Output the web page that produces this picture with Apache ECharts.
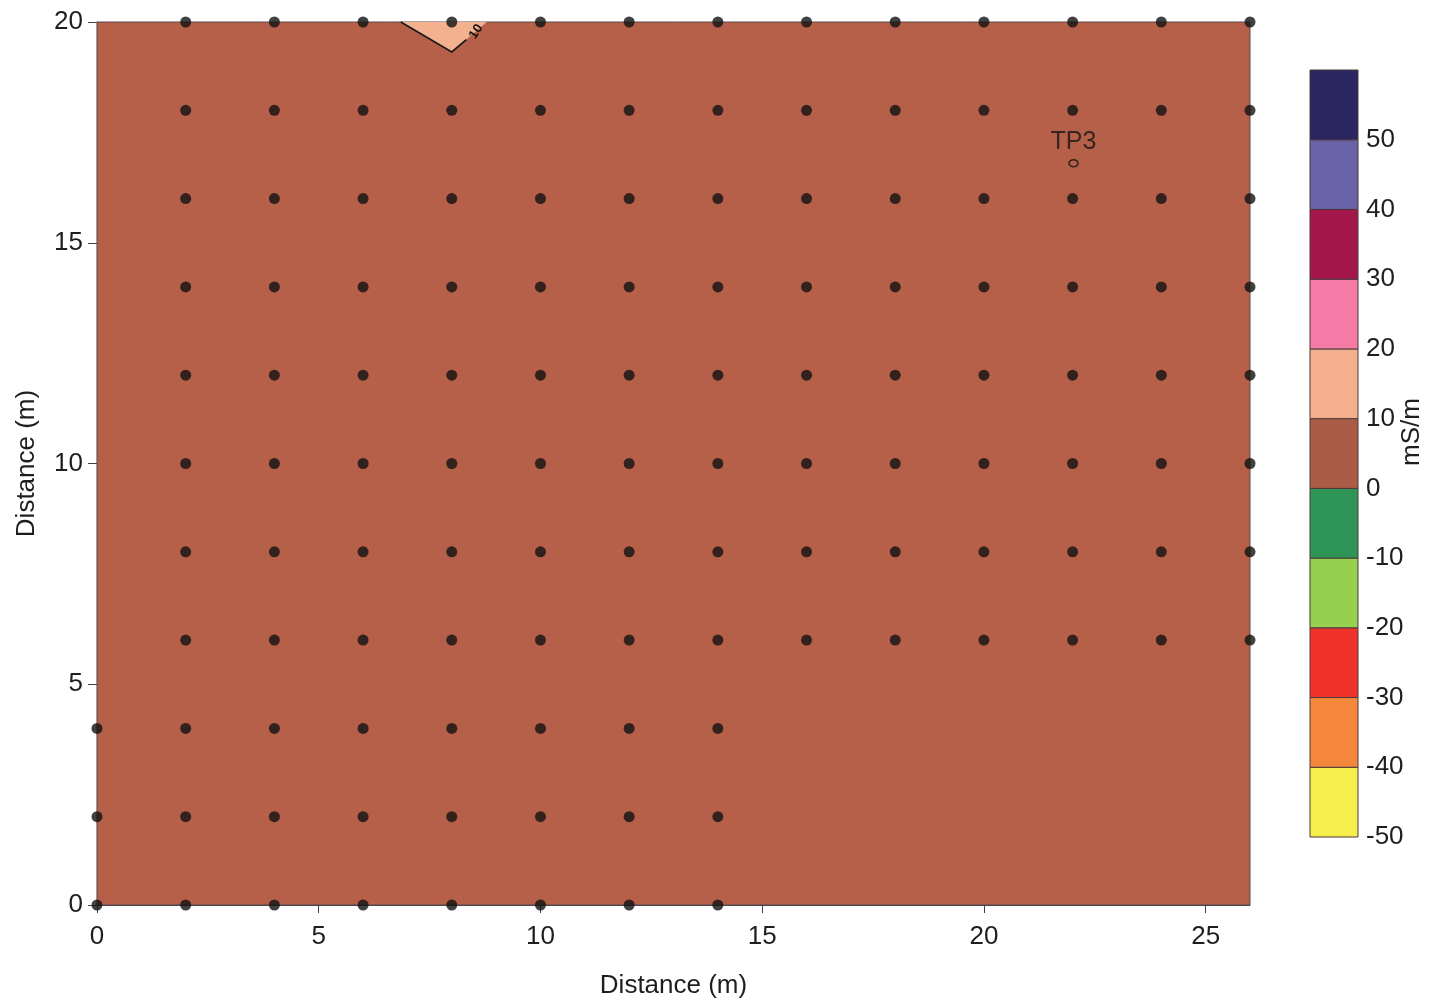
<!DOCTYPE html>
<html>
<head>
<meta charset="utf-8">
<script src="https://cdn.jsdelivr.net/npm/echarts@6/dist/echarts.min.js"></script>
<style>
html,body{margin:0;padding:0;background:#fff;}
#chart{width:1441px;height:1005px;}
</style>
</head>
<body>
<div id="chart"></div>
<script>
// ---- data ----
// survey station grid (m)
const northRowsY = [6, 8, 10, 12, 14, 16, 18, 20];
const northRowsX = [2, 4, 6, 8, 10, 12, 14, 16, 18, 20, 22, 24, 26];
const southRowsY = [0, 2, 4];
const southRowsX = [0, 2, 4, 6, 8, 10, 12, 14];

// contour regions (data coordinates, m) and their conductivity class (mS/m)
const region0to10 = [[0, 0], [26, 0], [26, 20], [0, 20]];
const region10to20 = [[6.85, 20], [8.0, 19.32], [8.79, 20]];
const contour10Line = [[6.85, 20], [8.0, 19.32], [8.33, 19.6]];
const contour10Label = { text: '10', x: 8.55, y: 19.78 };

// test pit
const testPit = { name: 'TP3', x: 22.02, y: 16.8 };

// colour scale (mS/m)
const scaleLows = [-50, -40, -30, -20, -10, 0, 10, 20, 30, 40, 50];
const scaleStep = 10;
const scaleColors = ['#f6ee4a', '#f4873c', '#f0322c', '#97d04f', '#2f9556', '#ac5c46',
                     '#f4b08e', '#f57ba6', '#a3174a', '#6a62a6', '#2b2560'];
const scaleTickLabels = [-50, -40, -30, -20, -10, 0, 10, 20, 30, 40, 50];
const xTicks = [0, 5, 10, 15, 20, 25];
const yTicks = [0, 5, 10, 15, 20];

const mapFill0to10 = '#b6604a';
const mapFill10to20 = '#f3b18f';

// ---- build ----
const stations = [];
northRowsY.forEach(y => northRowsX.forEach(x => stations.push([x, y])));
southRowsY.forEach(y => southRowsX.forEach(x => stations.push([x, y])));

const regions = [
  { coords: region0to10, color: mapFill0to10 },
  { coords: region10to20, color: mapFill10to20 }
];

const FONT = '"Liberation Sans", Arial, Helvetica, sans-serif';
const axisColor = '#3c4156';

const chart = echarts.init(document.getElementById('chart'), null, { renderer: 'canvas' });

chart.setOption({
  backgroundColor: '#ffffff',
  animation: false,
  grid: [
    { left: 97, top: 22, width: 1153, height: 883 },
    { left: 1310, top: 70, width: 48, height: 767 }
  ],
  xAxis: [
    {
      gridIndex: 0, type: 'value', min: 0, max: 26, interval: 5,
      name: 'Distance (m)', nameLocation: 'middle', nameGap: 68,
      nameTextStyle: { fontFamily: FONT, fontSize: 26, color: '#1e1e1e' },
      axisLine: { show: true, lineStyle: { color: axisColor, width: 1.2 } },
      axisTick: { show: true, length: 8, customValues: xTicks, lineStyle: { color: axisColor } },
      axisLabel: { customValues: xTicks, fontFamily: FONT, fontSize: 26, color: '#1e1e1e', margin: 19 },
      splitLine: { show: false }
    },
    {
      gridIndex: 1, type: 'value', min: 0, max: 1, show: false
    }
  ],
  yAxis: [
    {
      gridIndex: 0, type: 'value', min: 0, max: 20, interval: 5,
      name: 'Distance (m)', nameLocation: 'middle', nameGap: 57, nameRotate: 90,
      nameTextStyle: { fontFamily: FONT, fontSize: 26, color: '#1e1e1e' },
      axisLine: { show: true, lineStyle: { color: axisColor, width: 1.2 } },
      axisTick: { show: true, length: 9, customValues: yTicks, lineStyle: { color: axisColor } },
      axisLabel: { customValues: yTicks, fontFamily: FONT, fontSize: 26, color: '#1e1e1e', margin: 14 },
      splitLine: { show: false }
    },
    {
      gridIndex: 1, type: 'value', min: -50, max: 60, interval: 10, position: 'right',
      axisLine: { show: false }, axisTick: { show: false },
      axisLabel: { customValues: scaleTickLabels, fontFamily: FONT, fontSize: 26, color: '#1e1e1e', margin: 8 },
      splitLine: { show: false }
    }
  ],
  graphic: [
    {
      type: 'text', left: 1399, top: 398, rotation: Math.PI / 2,
      style: { text: 'mS/m', fontFamily: FONT, fontSize: 26, fill: '#1e1e1e' }
    }
  ],
  series: [
    {
      type: 'custom', xAxisIndex: 0, yAxisIndex: 0, silent: true, z: 1,
      data: regions.map((r, i) => [r.coords[0][0], r.coords[0][1], i]),
      renderItem: function (params, api) {
        const r = regions[params.dataIndex];
        const pts = r.coords.map(p => api.coord(p));
        return {
          type: 'polygon',
          shape: { points: pts },
          style: { fill: r.color, stroke: params.dataIndex === 0 ? '#5a4a4a' : null, lineWidth: 1 }
        };
      }
    },
    {
      type: 'custom', xAxisIndex: 0, yAxisIndex: 0, silent: true, z: 2,
      data: [[contour10Label.x, contour10Label.y]],
      renderItem: function (params, api) {
        const pts = contour10Line.map(p => api.coord(p));
        const lp = api.coord([contour10Label.x, contour10Label.y]);
        return {
          type: 'group',
          children: [
            { type: 'polyline', shape: { points: pts }, style: { stroke: '#1a1a1a', lineWidth: 1.8, fill: null } },
            {
              type: 'text', x: lp[0], y: lp[1], rotation: 58 * Math.PI / 180,
              style: { text: contour10Label.text, fontFamily: FONT, fontSize: 13, fontWeight: 'bold',
                       fill: '#111', align: 'center', verticalAlign: 'middle' }
            }
          ]
        };
      }
    },
    {
      type: 'scatter', xAxisIndex: 0, yAxisIndex: 0, z: 5, silent: true,
      symbol: 'circle', symbolSize: 11,
      itemStyle: { color: '#111111' },
      data: stations
    },
    {
      type: 'scatter', xAxisIndex: 0, yAxisIndex: 0, z: 5, silent: true,
      symbol: 'circle', symbolSize: [9, 7],
      itemStyle: { color: 'rgba(0,0,0,0)', borderColor: '#151515', borderWidth: 1.5 },
      label: { show: true, position: 'top', distance: 5, formatter: testPit.name,
               fontFamily: FONT, fontSize: 25, color: '#151515' },
      data: [[testPit.x, testPit.y]]
    },
    {
      type: 'custom', xAxisIndex: 1, yAxisIndex: 1, silent: true,
      data: scaleLows.map((lo, i) => [0, lo, i]),
      renderItem: function (params, api) {
        const lo = scaleLows[params.dataIndex];
        const p0 = api.coord([0, lo + scaleStep]);
        const p1 = api.coord([1, lo]);
        return {
          type: 'rect',
          shape: { x: p0[0], y: p0[1], width: p1[0] - p0[0], height: p1[1] - p0[1] },
          style: { fill: scaleColors[params.dataIndex], stroke: '#4a3a3a', lineWidth: 1 }
        };
      }
    }
  ]
});
</script>
</body>
</html>
